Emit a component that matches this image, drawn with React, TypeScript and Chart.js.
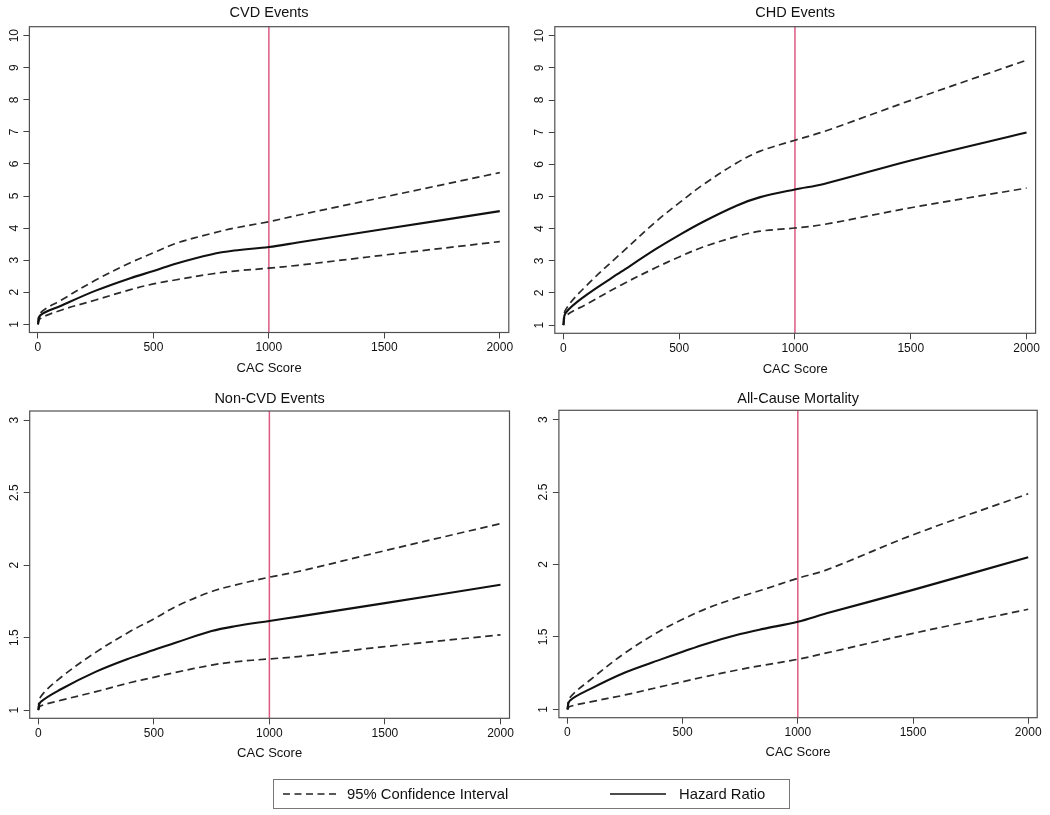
import React, { useEffect, useRef } from "react";
import { Chart, registerables } from "chart.js";

Chart.register(...registerables);

const FONT = "'Liberation Sans', Arial, Helvetica, sans-serif";

// ---------- data ----------
const CAC_SCORE = [0, 10, 100, 250, 400, 500, 600, 750, 850, 1000, 1125, 1500, 2000];

const CVD_HR = [1.0, 1.28, 1.58, 2.05, 2.44, 2.66, 2.9, 3.18, 3.3, 3.41, 3.55, 3.97, 4.53];
const CVD_UPPER = [1.0, 1.35, 1.75, 2.38, 2.92, 3.23, 3.53, 3.83, 4.0, 4.2, 4.4, 4.97, 5.73];
const CVD_LOWER = [1.0, 1.18, 1.44, 1.76, 2.08, 2.26, 2.39, 2.57, 2.66, 2.75, 2.84, 3.16, 3.58];

const CHD_HR = [1.0, 1.38, 1.94, 2.66, 3.37, 3.8, 4.2, 4.72, 4.98, 5.22, 5.39, 6.12, 6.99];
const CHD_UPPER = [1.0, 1.48, 2.23, 3.24, 4.22, 4.8, 5.35, 6.05, 6.41, 6.75, 7.02, 7.99, 9.24];
const CHD_LOWER = [1.0, 1.28, 1.65, 2.25, 2.79, 3.12, 3.42, 3.76, 3.92, 4.02, 4.13, 4.65, 5.26];

const NONCVD_HR = [1.0, 1.055, 1.145, 1.265, 1.36, 1.414, 1.468, 1.545, 1.578, 1.615, 1.645, 1.738, 1.865];
const NONCVD_UPPER = [1.0, 1.09, 1.228, 1.4, 1.545, 1.628, 1.718, 1.818, 1.862, 1.917, 1.956, 2.1, 2.287];
const NONCVD_LOWER = [1.0, 1.028, 1.068, 1.127, 1.19, 1.226, 1.262, 1.31, 1.333, 1.353, 1.369, 1.438, 1.519];

const ALLCAUSE_HR = [1.0, 1.06, 1.142, 1.255, 1.342, 1.398, 1.452, 1.52, 1.556, 1.605, 1.663, 1.825, 2.05];
const ALLCAUSE_UPPER = [1.0, 1.08, 1.205, 1.39, 1.54, 1.622, 1.694, 1.778, 1.827, 1.905, 1.963, 2.205, 2.488];
const ALLCAUSE_LOWER = [1.0, 1.02, 1.052, 1.1, 1.155, 1.191, 1.227, 1.276, 1.305, 1.346, 1.39, 1.525, 1.691];

const X_TICKS = [0, 500, 1000, 1500, 2000];
const Y_TICKS_TOP = [1, 2, 3, 4, 5, 6, 7, 8, 9, 10];
const Y_TICKS_BOTTOM = [1, 1.5, 2, 2.5, 3];
const REFERENCE_CAC = 1000;

const X_AXIS_TITLE = "CAC Score";
const LEGEND_CI = "95% Confidence Interval";
const LEGEND_HR = "Hazard Ratio";

// ---------- layout / style ----------
const X_MIN = -37;
const X_MAX = 2039;
const TOP_Y_RANGE = [0.745, 10.28];
const BOTTOM_Y_RANGE = [0.943, 3.064];

type PanelSpec = {
  title: string;
  hr: number[];
  upper: number[];
  lower: number[];
  yTicks: number[];
  yRange: number[];
  x: number;
  y: number;
  w: number;
  h: number;
  yAxisWidth: number;
  padRight: number;
  titlePad: [number, number];
  xAxisHeight: number;
  xTitlePadBottom: number;
  yTickPad: number;
};

const PANELS: PanelSpec[] = [
  {
    title: "CVD Events", hr: CVD_HR, upper: CVD_UPPER, lower: CVD_LOWER,
    yTicks: Y_TICKS_TOP, yRange: TOP_Y_RANGE,
    x: 0, y: 0, w: 525, h: 390, yAxisWidth: 29.4, padRight: 16.2, titlePad: [4.0, 5.3],
    xAxisHeight: 57.5, xTitlePadBottom: 13.9, yTickPad: 2.3,
  },
  {
    title: "CHD Events", hr: CHD_HR, upper: CHD_UPPER, lower: CHD_LOWER,
    yTicks: Y_TICKS_TOP, yRange: TOP_Y_RANGE,
    x: 525, y: 0, w: 525, h: 390, yAxisWidth: 29.8, padRight: 14.4, titlePad: [4.6, 4.7],
    xAxisHeight: 56.7, xTitlePadBottom: 12.9, yTickPad: 2.3,
  },
  {
    title: "Non-CVD Events", hr: NONCVD_HR, upper: NONCVD_UPPER, lower: NONCVD_LOWER,
    yTicks: Y_TICKS_BOTTOM, yRange: BOTTOM_Y_RANGE,
    x: 0, y: 390, w: 525, h: 380, yAxisWidth: 29.7, padRight: 15.5, titlePad: [0.3, 3.3],
    xAxisHeight: 51.7, xTitlePadBottom: 8.9, yTickPad: 0.7,
  },
  {
    title: "All-Cause Mortality", hr: ALLCAUSE_HR, upper: ALLCAUSE_UPPER, lower: ALLCAUSE_LOWER,
    yTicks: Y_TICKS_BOTTOM, yRange: BOTTOM_Y_RANGE,
    x: 525, y: 390, w: 525, h: 380, yAxisWidth: 33.9, padRight: 12.8, titlePad: [0.3, 2.6],
    xAxisHeight: 52.3, xTitlePadBottom: 9.9, yTickPad: 0.7,
  },
];

const framePlugin = {
  id: "plotFrame",
  afterDatasetsDraw(chart: any) {
    const { ctx, chartArea: a } = chart;
    ctx.save();
    ctx.strokeStyle = "#505050";
    ctx.lineWidth = 1.2;
    ctx.strokeRect(a.left, a.top, a.right - a.left, a.bottom - a.top);
    ctx.restore();
  },
};

function toPoints(values: number[]) {
  return CAC_SCORE.map((x, i) => ({ x, y: values[i] }));
}

function Panel({ spec }: { spec: PanelSpec }) {
  const ref = useRef<HTMLCanvasElement>(null);
  useEffect(() => {
    const [yMin, yMax] = spec.yRange;
    const lineCommon = {
      pointRadius: 0,
      pointHoverRadius: 0,
      fill: false,
      tension: 0.35,
      borderJoinStyle: "round" as const,
      order: 0,
    };
    const chart = new Chart(ref.current as HTMLCanvasElement, {
      type: "line",
      data: {
        datasets: [
          {
            ...lineCommon,
            label: LEGEND_HR,
            data: toPoints(spec.hr),
            borderColor: "#111111",
            borderWidth: 2.1,
          },
          {
            ...lineCommon,
            label: LEGEND_CI + " upper",
            data: toPoints(spec.upper),
            borderColor: "#2a2a2a",
            borderWidth: 1.7,
            borderDash: [7.5, 4.5],
          },
          {
            ...lineCommon,
            label: LEGEND_CI + " lower",
            data: toPoints(spec.lower),
            borderColor: "#2a2a2a",
            borderWidth: 1.7,
            borderDash: [7.5, 4.5],
          },
          {
            label: "CAC 1000",
            data: [
              { x: REFERENCE_CAC, y: yMin },
              { x: REFERENCE_CAC, y: yMax },
            ],
            borderColor: "#dc5a80",
            borderWidth: 1.5,
            pointRadius: 0,
            tension: 0,
            fill: false,
            order: 10,
          },
        ],
      },
      options: {
        animation: false,
        responsive: false,
        devicePixelRatio: 1,
        layout: { padding: { left: 0, right: spec.padRight, top: 0, bottom: 0 } },
        plugins: {
          legend: { display: false },
          tooltip: { enabled: false },
          title: {
            display: true,
            text: spec.title,
            fullSize: false,
            color: "#111111",
            font: { family: FONT, size: 14.5, weight: "normal", lineHeight: 1.2 },
            padding: { top: spec.titlePad[0], bottom: spec.titlePad[1] },
          },
        },
        scales: {
          x: {
            type: "linear",
            min: X_MIN,
            max: X_MAX,
            afterBuildTicks: (s: any) => {
              s.ticks = X_TICKS.map((v) => ({ value: v }));
            },
            afterFit: (s: any) => {
              s.height = spec.xAxisHeight;
            },
            ticks: {
              autoSkip: false,
              maxRotation: 0,
              minRotation: 0,
              padding: 2.2,
              color: "#111111",
              font: { family: FONT, size: 12 },
              callback: (v: any) => String(v),
            },
            grid: {
              display: true,
              drawOnChartArea: false,
              drawTicks: true,
              tickLength: 6,
              tickColor: "#444444",
              lineWidth: 1,
            },
            border: { display: false },
            title: {
              display: true,
              text: X_AXIS_TITLE,
              color: "#111111",
              font: { family: FONT, size: 13, lineHeight: 1.2 },
              padding: { top: 0, bottom: spec.xTitlePadBottom },
            },
          },
          y: {
            type: "linear",
            min: yMin,
            max: yMax,
            afterBuildTicks: (s: any) => {
              s.ticks = spec.yTicks.map((v) => ({ value: v }));
            },
            afterFit: (s: any) => {
              s.width = spec.yAxisWidth;
            },
            ticks: {
              autoSkip: false,
              minRotation: 90,
              maxRotation: 90,
              crossAlign: "center",
              padding: spec.yTickPad,
              color: "#111111",
              font: { family: FONT, size: 12 },
              callback: (v: any) => String(v),
            },
            grid: {
              display: true,
              drawOnChartArea: false,
              drawTicks: true,
              tickLength: 6,
              tickColor: "#444444",
              lineWidth: 1,
            },
            border: { display: false },
          },
        },
      } as any,
      plugins: [framePlugin],
    });
    return () => chart.destroy();
  }, [spec]);
  return (
    <canvas
      ref={ref}
      width={spec.w}
      height={spec.h}
      style={{ position: "absolute", left: spec.x, top: spec.y, width: spec.w, height: spec.h }}
    />
  );
}

function Legend() {
  const textStyle: React.CSSProperties = {
    position: "absolute",
    top: 785.5,
    fontFamily: FONT,
    fontSize: 14.8,
    lineHeight: "17px",
    color: "#111",
    whiteSpace: "nowrap",
  };
  return (
    <>
      <div
        style={{
          position: "absolute",
          left: 272.5,
          top: 779,
          width: 517,
          height: 30,
          border: "1px solid #777",
          boxSizing: "border-box",
        }}
      />
      <svg
        width={1050}
        height={815}
        style={{ position: "absolute", left: 0, top: 0, pointerEvents: "none" }}
      >
        <line x1={283} y1={794} x2={340} y2={794} stroke="#222" strokeWidth={1.4} strokeDasharray="7 4.5" />
        <line x1={610} y1={794} x2={666} y2={794} stroke="#111" strokeWidth={1.6} />
      </svg>
      <div style={{ ...textStyle, left: 347 }}>{LEGEND_CI}</div>
      <div style={{ ...textStyle, left: 679 }}>{LEGEND_HR}</div>
    </>
  );
}

export default function App() {
  return (
    <div
      style={{
        position: "fixed",
        left: 0,
        top: 0,
        width: 1050,
        height: 815,
        background: "#ffffff",
        overflow: "hidden",
      }}
    >
      {PANELS.map((p) => (
        <Panel key={p.title} spec={p} />
      ))}
      <Legend />
    </div>
  );
}
